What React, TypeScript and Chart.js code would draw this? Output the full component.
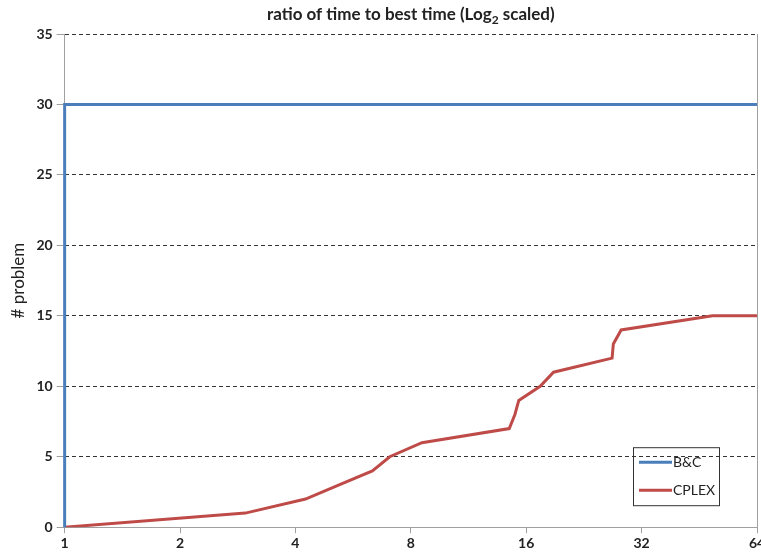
import React, { useEffect, useRef } from "react";
import { Chart, registerables } from "chart.js";

Chart.register(...registerables);

const xTickValues = [1, 2, 4, 8, 16, 32, 64];
const yMin = 0;
const yMax = 35;
const yStep = 5;
const bcX = [1, 1, 64];
const bcY = [0, 30, 30];
const cplexX = [1, 2.96, 4.25, 5.2, 6.35, 7.05, 8.55, 14.45, 14.95, 15.3, 17.4, 18.85, 26.8, 27.0, 28.3, 49, 64];
const cplexY = [0, 1, 2, 3, 4, 5, 6, 7, 8, 9, 10, 11, 12, 13, 14, 15, 15];
const seriesNames = ["B&C", "CPLEX"];
const seriesColors = ["#4a7ebb", "#be4b48"];
const titleMain = "ratio of time to best time (Log";
const titleSub = "2";
const titleEnd = " scaled)";
const yTitle = "# problem";

const FONT = "Lato, 'Open Sans', sans-serif";

const titlePlugin = {
  id: "subTitle",
  afterDraw(chart: any) {
    const { ctx, chartArea } = chart;
    ctx.save();
    const big = `bold 17px ${FONT}`;
    const small = `bold 12px ${FONT}`;
    ctx.font = big;
    const w1 = ctx.measureText(titleMain).width;
    const w3 = ctx.measureText(titleEnd).width;
    ctx.font = small;
    const w2 = ctx.measureText(titleSub).width;
    const total = w1 + w2 + w3;
    let x = (chartArea.left + chartArea.right) / 2 - total / 2;
    const y = 20;
    ctx.fillStyle = "#222";
    ctx.textBaseline = "alphabetic";
    ctx.textAlign = "left";
    ctx.font = big;
    ctx.fillText(titleMain, x, y);
    x += w1;
    ctx.font = small;
    ctx.fillText(titleSub, x, y + 4);
    x += w2;
    ctx.font = big;
    ctx.fillText(titleEnd, x, y);
    ctx.restore();
  },
};

const legendPlugin = {
  id: "boxLegend",
  afterDraw(chart: any) {
    const { ctx, chartArea } = chart;
    const w = 86;
    const h = 58;
    const x0 = chartArea.right - 38 - w;
    const y0 = chartArea.bottom - 22 - h;
    ctx.save();
    ctx.strokeStyle = "#333";
    ctx.lineWidth = 1;
    ctx.strokeRect(x0 + 0.5, y0 + 0.5, w, h);
    ctx.font = `14px ${FONT}`;
    ctx.textBaseline = "middle";
    ctx.textAlign = "left";
    chart.data.datasets.forEach((ds: any, i: number) => {
      const yy = y0 + 15 + i * 28;
      ctx.strokeStyle = ds.borderColor;
      ctx.lineWidth = 3;
      ctx.beginPath();
      ctx.moveTo(x0 + 6, yy);
      ctx.lineTo(x0 + 39, yy);
      ctx.stroke();
      ctx.fillStyle = "#222";
      ctx.fillText(ds.label, x0 + 40, yy);
    });
    ctx.restore();
  },
};

export default function App() {
  const ref = useRef<HTMLCanvasElement | null>(null);
  useEffect(() => {
    if (!ref.current) return;
    const chart = new Chart(ref.current, {
      type: "line",
      data: {
        datasets: [
          {
            label: seriesNames[0],
            data: bcX.map((x, i) => ({ x, y: bcY[i] })),
            borderColor: seriesColors[0],
            backgroundColor: seriesColors[0],
            borderWidth: 3,
            pointRadius: 0,
            tension: 0,
            clip: false,
          },
          {
            label: seriesNames[1],
            data: cplexX.map((x, i) => ({ x, y: cplexY[i] })),
            borderColor: seriesColors[1],
            backgroundColor: seriesColors[1],
            borderWidth: 3,
            pointRadius: 0,
            tension: 0,
          },
        ],
      },
      options: {
        animation: false,
        responsive: true,
        maintainAspectRatio: false,
        layout: { padding: { top: 34, left: 8, right: 4, bottom: 0 } },
        plugins: {
          legend: { display: false },
          title: { display: false },
          tooltip: { enabled: false },
        },
        scales: {
          x: {
            type: "logarithmic",
            min: xTickValues[0],
            max: xTickValues[xTickValues.length - 1],
            afterBuildTicks: (scale: any) => {
              scale.ticks = xTickValues.map((v) => ({ value: v }));
            },
            afterFit: (scale: any) => {
              scale.paddingRight = 0;
            },
            ticks: {
              autoSkip: false,
              maxRotation: 0,
              color: "#222",
              font: { family: FONT, size: 14, weight: "bold" },
              padding: 2,
              callback: (v: any) => String(v),
            },
            grid: {
              drawOnChartArea: true,
              color: (c: any) =>
                c.tick && c.tick.value === xTickValues[xTickValues.length - 1] ? "#a0a0a0" : "rgba(0,0,0,0)",
              tickColor: "#a0a0a0",
              tickLength: 6,
            },
            border: { display: true, color: "#a0a0a0", width: 1 },
          },
          y: {
            type: "linear",
            min: yMin,
            max: yMax,
            ticks: {
              stepSize: yStep,
              color: "#222",
              font: { family: FONT, size: 14, weight: "bold" },
              padding: 4,
            },
            title: {
              display: true,
              text: yTitle,
              color: "#222",
              font: { family: FONT, size: 17 },
              padding: { top: 0, bottom: 4 },
            },
            grid: {
              color: (c: any) => (c.tick && c.tick.value === 0 ? "rgba(0,0,0,0)" : "#333"),
              tickColor: "#a0a0a0",
              tickLength: 8,
              lineWidth: 1,
            },
            border: { display: true, color: "#a0a0a0", width: 1, dash: [4, 3] },
          },
        },
      },
      plugins: [titlePlugin, legendPlugin],
    } as any);
    return () => chart.destroy();
  }, []);
  return (
    <div style={{ position: "fixed", left: 0, top: 0, width: 761, height: 554, background: "#fff" }}>
      <canvas ref={ref} />
    </div>
  );
}
